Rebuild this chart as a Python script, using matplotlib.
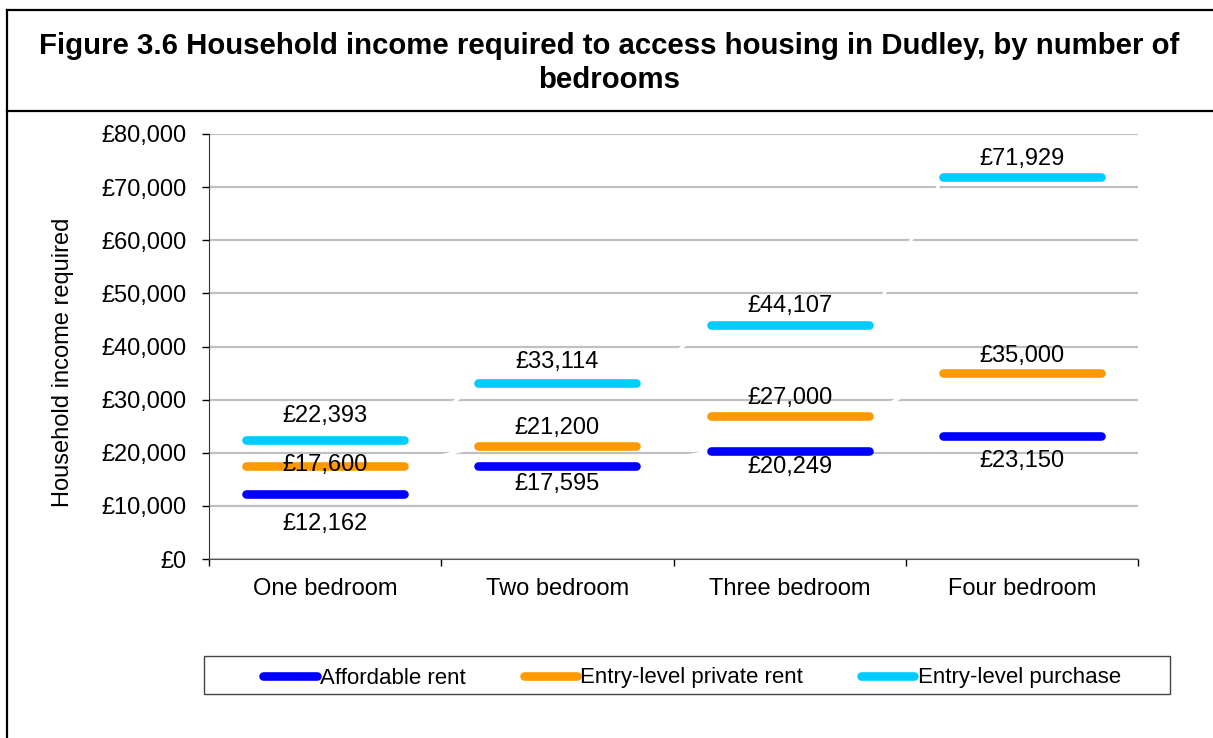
import matplotlib
matplotlib.use("Agg")
import matplotlib.pyplot as plt
from matplotlib.lines import Line2D
from matplotlib.patches import Rectangle

W, H = 1213, 738
DPI = 100

BLUE = '#0000ff'
ORANGE = '#ff9900'
CYAN = '#00ccff'
GRID = '#c0c0c0'

categories = ['One bedroom', 'Two bedroom', 'Three bedroom', 'Four bedroom']
affordable_rent = [12162, 17595, 20249, 23150]
private_rent = [17600, 21200, 27000, 35000]
entry_purchase = [22393, 33114, 44107, 71929]
series_names = ['Affordable rent', 'Entry-level private rent', 'Entry-level purchase']
yticks = [0, 10000, 20000, 30000, 40000, 50000, 60000, 70000, 80000]

# label offsets in pixels (positive = down), per series, per category
label_dy = [
    [30, 18, 16, 25],
    [0, -18, -18, -17],
    [-24, -21, -19, -18],
]

plt.rcParams['font.family'] = ['Liberation Sans', 'DejaVu Sans']

fig = plt.figure(figsize=(W / DPI, H / DPI), dpi=DPI)
ax = fig.add_axes([209 / W, 1 - 559 / H, (1138 - 209) / W, (559 - 134) / H])

HALF = 0.34
series = [affordable_rent, private_rent, entry_purchase]
colors = [BLUE, ORANGE, CYAN]

for vals, col, dys in zip(series, colors, label_dy):
    # white joining line (only shows where it crosses the gridlines)
    xs, ys = [], []
    for i, v in enumerate(vals):
        xs += [i - HALF, i + HALF]
        ys += [v, v]
    ax.plot(xs, ys, color='white', lw=2.2, zorder=2)
    for i, v in enumerate(vals):
        ax.plot([i - HALF, i + HALF], [v, v], color=col, lw=6.2,
                solid_capstyle='round', zorder=3)
        ax.annotate(f'£{v:,}', (i, v), xytext=(0, -dys[i] * 0.72),
                    textcoords='offset points', ha='center', va='center',
                    fontsize=17, zorder=4)

ax.set_xlim(-0.5, len(categories) - 0.5)
ax.set_ylim(0, 80000)
ax.set_yticks(yticks)
ax.set_yticklabels([f'£{t:,}' for t in yticks])
ax.set_xticks(range(len(categories)))
ax.set_xticklabels(categories)
ax.set_xticks([i - 0.5 for i in range(len(categories) + 1)], minor=True)
ax.tick_params(axis='x', which='major', length=0, pad=14, labelsize=17)
ax.tick_params(axis='x', which='minor', length=5, width=1, direction='out')
ax.tick_params(axis='y', length=5, width=1, direction='out', pad=11, labelsize=17)

ax.yaxis.grid(True, color=GRID, lw=1.6)
ax.set_axisbelow(True)
for s in ['top', 'right']:
    ax.spines[s].set_visible(False)
ax.spines['left'].set_color('#333333')
ax.spines['bottom'].set_color('#555555')

fig.text(63 / W, 1 - 362 / H, 'Household income required', rotation=90,
         ha='center', va='center', fontsize=17)

fig.text(609 / W, 1 - 63 / H,
         'Figure 3.6 Household income required to access housing in Dudley, by number of\nbedrooms',
         ha='center', va='center', fontsize=21.2, fontweight='bold', linespacing=1.3)

# outer frame
fig.add_artist(Line2D([7 / W, 1], [1 - 10 / H, 1 - 10 / H], color='black', lw=1.6))
fig.add_artist(Line2D([7 / W, 7 / W], [0, 1 - 10 / H], color='black', lw=1.6))
fig.add_artist(Line2D([7 / W, 1], [1 - 111 / H, 1 - 111 / H], color='black', lw=1.6))

# legend box
fig.add_artist(Rectangle((204 / W, 1 - 694 / H), (1170 - 204) / W, 38 / H,
                         transform=fig.transFigure, fill=False, ec='#444444', lw=1))
handles = [Line2D([], [], color=c, lw=6.2, solid_capstyle='round') for c in colors]
fig.legend(handles, series_names, loc='center', bbox_to_anchor=(692 / W, 1 - 678 / H),
           ncol=3, frameon=False, fontsize=16, handlelength=2.4, handletextpad=0.15,
           columnspacing=2.6)

fig.savefig('out.png', dpi=DPI)
